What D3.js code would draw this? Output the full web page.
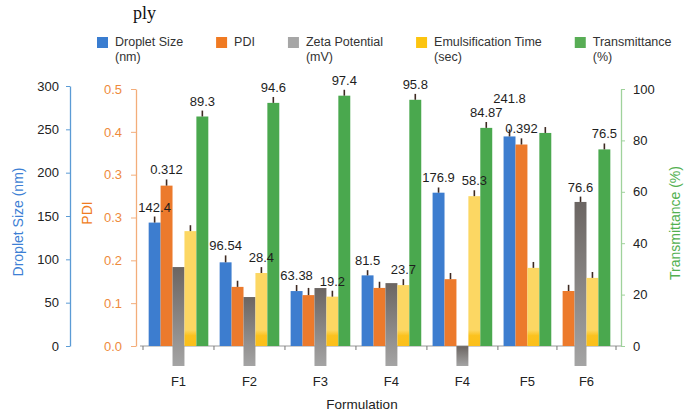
<!DOCTYPE html>
<html>
<head>
<meta charset="utf-8">
<script src="https://cdn.jsdelivr.net/npm/d3@7"></script>
<style>
  html, body { margin: 0; padding: 0; background: #fff; }
  svg { display: block; font-family: "Liberation Sans", Arial, Helvetica, sans-serif; }
</style>
</head>
<body>
<svg id="chart" width="692" height="416"></svg>
<script>
// ---- data -------------------------------------------------------------
const formulations = ["F1", "F2", "F3", "F4", "F4", "F5", "F6"];

const dropletSize        = [142.4, 96.54, 63.38, 81.5, 176.9, 241.8, null]; // nm
const pdi                = [0.312, 0.115, 0.099, 0.113, 0.130, 0.392, 0.107];
const zetaPotential      = [46.2, 32.2, 36.4, 38.7, 9.3, null, 76.6];        // mV (magnitude)
const emulsificationTime = [44.7, 28.4, 19.2, 23.7, 58.3, 30.4, 26.5];      // sec
const transmittance      = [89.3, 94.6, 97.4, 95.8, 84.87, 82.9, 76.5];     // %

// standard deviations, drawn as whiskers above each bar
const dropletSD        = [7, 8, 7, 6, 6, 8, null];
const pdiSD            = [0.012, 0.012, 0.014, 0.012, 0.012, 0.012, 0.012];
const zetaSD           = [null, null, null, null, null, null, 2.5];
const emulsificationSD = [2.3, 2.3, 2.3, 2.3, 2.3, 2.3, 2.3];
const transmittanceSD  = [2.3, 2.3, 2.3, 2.3, 2.3, 2.3, 2.3];

// which values have their number printed above the bar
const dropletLabelled        = [true, true, true, true, true, true, false];
const pdiLabelled            = [true, false, false, false, false, true, false];
const zetaLabelled           = [false, false, false, false, false, false, true];
const emulsificationLabelled = [false, true, true, true, true, false, false];
const transmittanceLabelled  = [true, true, true, true, true, false, true];

const dropletTicks       = [0, 50, 100, 150, 200, 250, 300];
const pdiTicks           = [0, 1, 2, 3, 4, 5, 6].map(i => i * 0.5 / 6);
const transmittanceTicks = [0, 20, 40, 60, 80, 100];

const legendNames = [["Droplet Size", "(nm)"], ["PDI"], ["Zeta Potential", "(mV)"], ["Emulsification Time", "(sec)"], ["Transmittance", "(%)"]];

// ---- layout -----------------------------------------------------------
const svg = d3.select("#chart");
const baseY = 346, topLeft = 86, topRight = 89;
const x0 = 143, x1 = 616;
const stub = 20;              // zeta bars start this far below the x axis
const groupPad = 0.95;        // gap between formulations, in bar widths

const yDroplet = d3.scaleLinear().domain([0, 300]).range([baseY, topLeft]);
const yPdi     = d3.scaleLinear().domain([0, 0.5]).range([baseY, topRight]);
const yTrans   = d3.scaleLinear().domain([0, 100]).range([baseY, topRight]);
const yEmul    = yTrans.copy();
const yZeta    = d3.scaleLinear().domain([0, 120]).range([baseY + stub, baseY + stub - (baseY - topRight)]);

const defs = svg.append("defs");
const zg = defs.append("linearGradient").attr("id", "zetaFill").attr("x1", 0).attr("y1", 0).attr("x2", 0).attr("y2", 1);
zg.append("stop").attr("offset", "0%").attr("stop-color", "#6b6562");
zg.append("stop").attr("offset", "100%").attr("stop-color", "#a4a4a4");
const eg = defs.append("linearGradient").attr("id", "emulFill").attr("gradientUnits", "userSpaceOnUse")
  .attr("x1", 0).attr("x2", 0).attr("y1", baseY - 16).attr("y2", baseY);
eg.append("stop").attr("offset", "0%").attr("stop-color", "#fcd763");
eg.append("stop").attr("offset", "35%").attr("stop-color", "#fbc21f");
eg.append("stop").attr("offset", "100%").attr("stop-color", "#fbbf1a");

const series = [
  { key: "droplet", values: dropletSize, sd: dropletSD, labelled: dropletLabelled, y: yDroplet, fill: "#3d7dcf" },
  { key: "pdi", values: pdi, sd: pdiSD, labelled: pdiLabelled, y: yPdi, fill: "#ec7a2c" },
  { key: "zeta", values: zetaPotential, sd: zetaSD, labelled: zetaLabelled, y: yZeta, fill: "url(#zetaFill)" },
  { key: "emul", values: emulsificationTime, sd: emulsificationSD, labelled: emulsificationLabelled, y: yEmul, fill: "url(#emulFill)" },
  { key: "trans", values: transmittance, sd: transmittanceSD, labelled: transmittanceLabelled, y: yTrans, fill: "#4aa84e" }
];
const legendFills = ["#3a7dd0", "#f07a22", "#a6a6a6", "#fcc40f", "#58ad55"];

// each formulation is as wide as the bars it actually has
let units = 0;
const groups = formulations.map((name, i) => {
  const bars = series.filter(s => s.values[i] != null)
    .map(s => ({ s, v: s.values[i], sd: s.sd[i], labelled: s.labelled[i] }));
  const g = { name, bars, start: units, end: units + bars.length + groupPad };
  units = g.end;
  return g;
});
const xUnits = d3.scaleLinear().domain([0, units]).range([x0, x1]);
groups.forEach(g => {
  const inner = d3.scaleBand().domain(g.bars.map(b => b.s.key))
    .range([xUnits(g.start + groupPad / 2), xUnits(g.end - groupPad / 2)]);
  g.bars.forEach(b => { b.x = inner(b.s.key); b.w = inner.bandwidth(); });
  g.cx = xUnits((g.start + g.end) / 2);
});
const allBars = groups.flatMap(g => g.bars);

// ---- axes -------------------------------------------------------------
const tickFont = sel => sel.attr("font-size", null).style("font-size", "13px")
  .style("font-family", "Liberation Sans, Arial, sans-serif");

const axL = svg.append("g").attr("transform", "translate(70,0)")
  .call(d3.axisLeft(yDroplet).tickValues(dropletTicks).tickSize(4).tickSizeOuter(0).tickPadding(7));
axL.select(".domain").attr("stroke", "#5b9bd5").attr("stroke-width", 1.3);
axL.selectAll(".tick line").attr("stroke", "#5b9bd5");
axL.selectAll(".tick text").attr("fill", "#222").call(tickFont);

const axP = svg.append("g").attr("transform", "translate(136,0)")
  .call(d3.axisLeft(yPdi).tickValues(pdiTicks).tickFormat(d3.format(".1f")).tickSize(5).tickSizeOuter(0).tickPadding(9));
axP.select(".domain").attr("stroke", "#f3ad7a").attr("stroke-width", 1.3);
axP.selectAll(".tick line").attr("stroke", "#f3ad7a");
axP.selectAll(".tick text").attr("fill", "#ee8a3c").call(tickFont);

const axR = svg.append("g").attr("transform", "translate(621,0)")
  .call(d3.axisRight(yTrans).tickValues(transmittanceTicks).tickSize(4).tickSizeOuter(0).tickPadding(8));
axR.select(".domain").attr("stroke", "#9fd29b").attr("stroke-width", 1.3);
axR.selectAll(".tick line").attr("stroke", "#9fd29b");
axR.selectAll(".tick text").attr("fill", "#222").call(tickFont);

// x axis: baseline, boundary ticks, formulation names
svg.append("line").attr("x1", 140).attr("x2", 621).attr("y1", baseY).attr("y2", baseY)
  .attr("stroke", "#9a9a9a").attr("stroke-width", 1.2);
const bounds = [groups[0].start].concat(groups.map(g => g.end));
svg.append("g").selectAll("line").data(bounds).join("line")
  .attr("x1", d => xUnits(d)).attr("x2", d => xUnits(d))
  .attr("y1", baseY).attr("y2", baseY + 4).attr("stroke", "#777");

// ---- bars -------------------------------------------------------------
svg.append("g").selectAll("rect").data(allBars).join("rect")
  .attr("x", d => d.x).attr("width", d => d.w)
  .attr("y", d => d.s.y(d.v))
  .attr("height", d => d.s.y(0) - d.s.y(d.v))
  .attr("fill", d => d.s.fill);

// whiskers
svg.append("g").selectAll("line").data(allBars.filter(d => d.sd != null)).join("line")
  .attr("x1", d => d.x + d.w / 2).attr("x2", d => d.x + d.w / 2)
  .attr("y1", d => d.s.y(d.v)).attr("y2", d => d.s.y(d.v + d.sd))
  .attr("stroke", "#3e2a22").attr("stroke-width", 1.6);

// value labels, left to right; a label that would collide is lifted until clear
const labelG = svg.append("g").style("font-size", "13px").attr("fill", "#1e1e1e");
const placed = [];
const hits = (a, p) => a.l < p.r && a.r > p.l && a.t < p.b && a.b > p.t;
allBars.filter(b => b.labelled).forEach(b => {
  const cx = b.x + b.w / 2;
  let y = b.s.y(b.v + (b.sd || 0)) - 5;
  const t = labelG.append("text").attr("x", cx).attr("y", y).attr("text-anchor", "middle").text(String(b.v));
  const w = t.node().getComputedTextLength();
  let box = { l: cx - w / 2, r: cx + w / 2, t: y - 10, b: y + 3 };
  let other = placed.find(p => hits(box, p));
  while (other) {
    y = other.t - 4;
    box = { l: box.l, r: box.r, t: y - 10, b: y + 3 };
    other = placed.find(p => hits(box, p));
  }
  t.attr("y", y);
  placed.push(box);
});

svg.append("g").selectAll("text").data(groups).join("text")
  .attr("x", d => d.cx).attr("y", 386).attr("text-anchor", "middle")
  .style("font-size", "13px").attr("fill", "#222").text(d => d.name);

// ---- titles -----------------------------------------------------------
svg.append("text").attr("x", 362).attr("y", 409).attr("text-anchor", "middle")
  .style("font-size", "13.5px").attr("fill", "#222").text("Formulation");
svg.append("text").attr("transform", "translate(23,222) rotate(-90)").attr("text-anchor", "middle")
  .style("font-size", "14px").attr("fill", "#3d7fd4").text("Droplet Size (nm)");
svg.append("text").attr("transform", "translate(92,213) rotate(-90)").attr("text-anchor", "middle")
  .style("font-size", "14px").attr("fill", "#f07c22").text("PDI");
svg.append("text").attr("transform", "translate(680,223) rotate(-90)").attr("text-anchor", "middle")
  .style("font-size", "14px").attr("fill", "#52b050").text("Transmittance (%)");

// fragment of the caption line above the figure
svg.append("text").attr("x", 133).attr("y", 19)
  .style("font-family", "Liberation Serif, DejaVu Serif, serif").style("font-size", "18px")
  .attr("fill", "#111").text("ply");

// ---- legend -----------------------------------------------------------
const legend = svg.append("g").style("font-size", "12.5px").attr("fill", "#333");
let lx = 97;
legendNames.forEach((lines, i) => {
  const item = legend.append("g").attr("transform", `translate(${lx},0)`);
  item.append("rect").attr("x", 0).attr("y", 37).attr("width", 11).attr("height", 11).attr("fill", legendFills[i]);
  let maxW = 0;
  lines.forEach((line, j) => {
    const t = item.append("text").attr("x", 18).attr("y", 46 + j * 15).text(line);
    maxW = Math.max(maxW, t.node().getComputedTextLength());
  });
  lx += 18 + maxW + 33;
});
</script>
</body>
</html>
